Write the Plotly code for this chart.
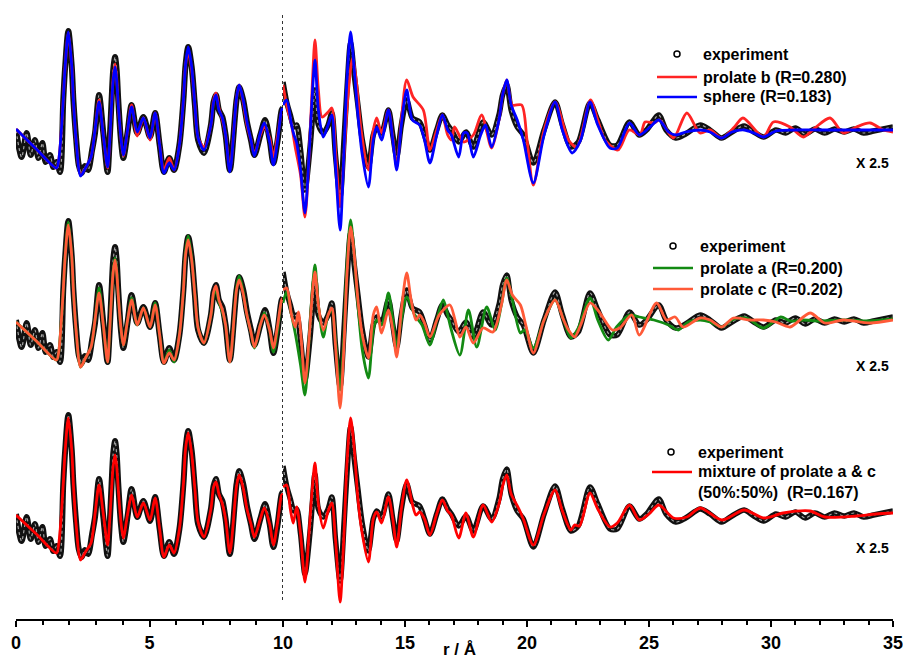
import plotly.graph_objects as go

# ---------------- data (values relative to each panel's baseline, arbitrary units) ----------------
# r < 10 Å drawn as measured; r >= 10 Å drawn magnified (X 2.5)
EXP_R_LO = [0.00, 0.21, 0.40, 0.55, 0.71, 0.84, 0.99, 1.11, 1.27, 1.40, 1.52, 1.65, 1.77, 1.84, 1.96,
            2.09, 2.15, 2.25, 2.35, 2.46, 2.58, 2.70, 2.85, 2.96, 3.11, 3.27, 3.43, 3.50, 3.58, 3.64,
            3.71, 3.77, 3.83, 3.93, 4.02, 4.18, 4.33, 4.54, 4.77, 5.02, 5.21, 5.38, 5.54, 5.74, 5.92,
            6.12, 6.27, 6.35, 6.45, 6.58, 6.70, 6.82, 7.04, 7.30, 7.40, 7.49, 7.60, 7.73, 7.85, 8.01,
            8.26, 8.36, 8.51, 8.65, 8.80, 8.93, 9.15, 9.33, 9.50, 9.64, 9.80, 9.95, 10.0]
EXP_G_LO = [0, -27, -3, -25, -10, -28, -13, -32, -25, -37, -32, -42, 30, 63, 99,
            63, 30, -8, -35, -43, -36, -40, -20, -3, 35, -3, -42, -15, 30, 60,
            73, 60, 30, -10, -28, -2, 25, -3, 13, -7, 17, -15, -42, -28, -40,
            -15, 30, 65, 83, 63, 25, -10, -23, 5, 28, 35, 20, 13, -5, -40,
            30, 43, 30, 8, -10, -25, -5, 10, -10, -33, -10, 20, 22]
EXP_R_HI = [10.00, 10.15, 10.30, 10.45, 10.56, 10.72, 10.90, 11.10, 11.20, 11.31, 11.45, 11.65, 11.85, 12.00, 12.15,
            12.34, 12.50, 12.62, 12.77, 12.92, 13.07, 13.25, 13.50, 13.70, 13.84, 14.04, 14.32, 14.50, 14.66, 14.85,
            15.07, 15.30, 15.60, 15.80, 16.02, 16.30, 16.53, 16.75, 16.90, 17.20, 17.50, 17.80, 18.20, 18.55, 18.85,
            19.00, 19.17, 19.35, 19.60, 19.85, 20.26, 20.70, 21.15, 21.45, 21.80, 22.10, 22.58, 22.90, 23.40, 23.70,
            24.20, 24.60, 24.90, 25.40, 25.70, 26.10, 26.50, 27.10, 27.50, 27.97, 28.40, 28.90, 29.30, 29.70, 30.20,
            30.60, 31.00, 31.40, 31.80, 32.20, 32.60, 33.00, 33.40, 33.80, 34.20, 34.60, 35.00]
EXP_G_HI = [48, 28, 15, 3, 5, -20, -60, -20, 10, 40, 5, -3, 5, 17, -25,
            -67, -10, 40, 87, 55, 25, -10, -37, -5, 3, -3, 20, -5, -27, 5,
            30, 12, 8, -5, -20, 0, 15, 5, 0, -12, -2, -17, 8, -5, 15,
            35, 45, 20, 3, -5, -33, 0, 28, 5, -17, -12, 27, 10, -15, -15,
            8, -5, 0, 15, 0, -8, -4, 5, 0, -8, -2, 4, -2, -7, 0,
            -3, 2, -4, 1, -3, 1, -2, 1, -3, -1, 1, 3]

MODEL_R_LO = [0, 0.76, 1.52, 1.60, 1.70, 1.77, 1.84, 1.96, 2.09, 2.15, 2.25, 2.42, 2.60, 2.81, 2.96,
              3.11, 3.27, 3.43, 3.50, 3.58, 3.64, 3.71, 3.77, 3.83, 3.93, 4.02, 4.18, 4.33, 4.54, 4.77,
              5.02, 5.21, 5.38, 5.54, 5.74, 5.92, 6.12, 6.27, 6.35, 6.45, 6.58, 6.70, 6.82, 7.04, 7.30,
              7.40, 7.49, 7.60, 7.73, 7.85, 8.01, 8.26, 8.36, 8.51, 8.65, 8.80, 8.93, 9.15, 9.30, 9.50,
              9.64, 9.80, 9.95, 10.0]

SPHERE_G_LO = [1, -19, -38, -30, 0, 30, 63, 98, 63, 30, -10, -46, -38, -27, 0,
               28, -5, -37, -15, 25, 50, 63, 50, 25, -8, -25, 0, 23, -2, 12,
               -8, 17, -15, -43, -33, -40, -15, 30, 65, 83, 63, 25, -8, -20, 5,
               28, 35, 20, 12, -5, -42, 32, 45, 30, 8, -10, -26, -3, 7, -12,
               -35, -10, 20, 22]
SPHERE_R_HI = [10.00, 10.15, 10.35, 10.45, 10.55, 10.72, 10.90, 11.08, 11.20, 11.31, 11.45, 11.65, 11.85, 12.00, 12.15,
               12.34, 12.50, 12.62, 12.77, 12.92, 13.07, 13.25, 13.50, 13.70, 13.84, 14.04, 14.32, 14.50, 14.66, 14.85,
               15.07, 15.30, 15.60, 15.80, 16.02, 16.30, 16.53, 16.75, 16.90, 17.20, 17.40, 17.55, 17.80, 18.10, 18.30,
               18.55, 18.85, 19.00, 19.17, 19.35, 19.60, 19.85, 20.26, 20.70, 21.15, 21.45, 21.85, 22.20, 22.58, 22.90,
               23.40, 23.70, 24.20, 24.60, 25.00, 25.40, 25.80, 26.10, 26.50, 27.10, 27.50, 27.97, 28.40, 28.90, 29.30,
               29.70, 30.20, 31.00, 32.00, 33.00, 34.00, 35.00]
SPHERE_G_HI = [25, 30, 5, -5, -12, -40, -83, -20, 35, 70, 20, -7, 5, 15, -35,
               -100, -20, 50, 98, 60, 15, -25, -57, -10, 3, -10, 20, -10, -40, 5,
               40, 10, 5, -10, -33, -5, 15, 0, -5, -27, -3, -3, -27, -5, 5,
               -17, 10, 35, 50, 25, 10, -10, -53, -5, 28, 0, -23, -10, 28, 5,
               -18, -18, 7, -5, 2, 10, -2, -5, -2, 0, -2, -8, -2, 0, -3,
               -7, -1, 0, 0, 0, 0, 0]

PROLATE_B_G_LO = [1, -19, -38, -30, 0, 30, 63, 97, 63, 30, -10, -45, -38, -27, 0,
                  30, -5, -38, -15, 25, 52, 66, 52, 25, -8, -26, 0, 25, -6, 12,
                  -10, 17, -15, -40, -28, -40, -15, 30, 65, 78, 60, 25, -8, -17, 5,
                  30, 37, 22, 10, -5, -40, 32, 45, 28, 5, -10, -24, -5, 3, -8,
                  -27, -5, 18, 20]
PROLATE_B_R_HI = [10.00, 10.15, 10.35, 10.50, 10.72, 10.90, 11.08, 11.20, 11.31, 11.45, 11.60, 11.85, 12.00, 12.15, 12.34,
                  12.50, 12.65, 12.85, 13.00, 13.20, 13.50, 13.70, 13.84, 14.04, 14.32, 14.50, 14.66, 14.85, 15.07, 15.33,
                  15.75, 16.02, 16.30, 16.53, 16.75, 16.90, 17.03, 17.40, 17.80, 18.14, 18.55, 18.85, 19.00, 19.17, 19.40,
                  19.78, 20.00, 20.26, 20.70, 21.15, 21.70, 22.04, 22.60, 22.90, 23.20, 23.73, 24.19, 24.63, 24.84, 25.20,
                  25.44, 26.00, 26.55, 27.09, 27.50, 27.98, 28.50, 28.85, 29.69, 30.10, 30.78, 31.33, 31.80, 32.42, 32.96,
                  33.50, 34.06, 34.60, 35.00]
PROLATE_B_G_HI = [45, 25, 5, -17, -45, -87, -20, 45, 90, 40, 13, 18, 22, -20, -77,
                  -25, 30, 72, 50, 0, -40, 0, 12, -3, 20, -8, -37, 10, 50, 33,
                  20, -20, 0, 15, -5, -10, 3, -12, -5, 15, -18, 10, 35, 50, 25,
                  25, -10, -55, 0, 28, -10, -17, 30, 10, -10, -20, 0, -5, 8, 7,
                  10, -8, 17, -3, 0, -8, 3, 12, -7, 8, 3, -7, 2, 12, -3,
                  3, 7, 0, -2]

PROLATE_A_G_LO = [-2, -21, -40, -32, 0, 30, 63, 98, 63, 30, -10, -47, -38, -27, 0,
                  32, -5, -42, -15, 25, 50, 62, 50, 25, -8, -25, 0, 22, -5, 12,
                  -7, 17, -15, -43, -30, -42, -15, 30, 68, 84, 62, 25, -8, -23, 5,
                  25, 30, 18, 8, -5, -42, 32, 44, 28, 5, -12, -28, -5, 7, -10,
                  -32, -10, 17, 17]
PROLATE_A_R_HI = [10.00, 10.15, 10.35, 10.50, 10.72, 10.90, 11.08, 11.20, 11.31, 11.45, 11.65, 11.85, 12.00, 12.15, 12.34,
                  12.50, 12.62, 12.77, 12.92, 13.07, 13.25, 13.50, 13.70, 13.84, 14.04, 14.32, 14.50, 14.66, 14.85, 15.07,
                  15.40, 15.70, 16.02, 16.30, 16.57, 16.75, 16.90, 17.25, 17.60, 17.94, 18.35, 18.69, 18.95, 19.17, 19.40,
                  19.73, 19.90, 20.26, 20.70, 21.15, 21.50, 21.80, 22.10, 22.58, 22.90, 23.33, 23.67, 24.20, 24.60, 25.20,
                  25.80, 26.20, 26.60, 27.10, 27.50, 27.98, 28.40, 29.00, 29.70, 30.40, 30.80, 31.30, 32.00, 33.00, 34.00,
                  35.00]
PROLATE_A_G_HI = [17, 28, 5, -13, -45, -75, -15, 30, 55, 15, -17, 5, 10, -20, -70,
                  -15, 55, 100, 65, 15, -30, -58, -10, 0, -5, 27, 0, -27, 0, 23,
                  5, -5, -25, 0, 20, 5, -10, -35, 10, -27, 13, -10, 15, 42, 20,
                  -13, -10, -28, 0, 20, 0, -18, -8, 22, 0, -20, -7, 5, 3, 0,
                  -5, -10, -2, 0, -2, -7, 0, 2, -8, 3, -1, 0, -1, 0, -1,
                  1]

PROLATE_C_G_LO = [-2, -21, -40, -32, 0, 30, 63, 95, 63, 30, -10, -47, -38, -27, 0,
                  27, -5, -42, -15, 25, 48, 60, 48, 25, -8, -25, 0, 20, -5, 12,
                  -7, 15, -15, -43, -33, -40, -15, 30, 65, 80, 60, 25, -8, -23, 5,
                  28, 34, 20, 10, -5, -42, 30, 40, 26, 5, -12, -27, -5, 5, -10,
                  -28, -5, 20, 22]
PROLATE_C_R_HI = [10.00, 10.15, 10.35, 10.50, 10.63, 10.75, 10.90, 11.08, 11.20, 11.31, 11.45, 11.65, 11.85, 12.00, 12.15,
                  12.34, 12.50, 12.62, 12.77, 12.92, 13.07, 13.25, 13.50, 13.70, 13.84, 14.04, 14.32, 14.50, 14.66, 14.85,
                  15.07, 15.25, 15.45, 15.60, 15.80, 16.02, 16.40, 16.84, 17.05, 17.25, 17.50, 17.80, 18.20, 18.60, 18.95,
                  19.17, 19.40, 19.73, 19.95, 20.26, 20.70, 21.15, 21.50, 21.70, 21.95, 22.20, 22.58, 22.90, 23.10, 23.50,
                  23.80, 24.30, 24.60, 25.31, 25.72, 26.07, 26.40, 27.09, 27.50, 27.98, 28.46, 29.14, 29.69, 30.20, 30.78,
                  31.60, 32.20, 32.96, 34.06, 35.00]
PROLATE_C_G_HI = [30, 32, 5, -7, 8, -20, -63, -15, 25, 48, 15, -10, 5, 12, -25,
                  -88, -25, 45, 93, 65, 20, -15, -38, 5, 13, -13, 10, -10, -37, 10,
                  47, 20, 0, 5, -3, -17, 5, 15, 0, -17, -7, -23, -8, -12, 15,
                  40, 25, 15, -5, -33, 0, 20, 0, -10, -17, -5, 17, 10, 3, -10,
                  -8, 5, -15, 17, 0, 3, -7, 2, 0, -7, 2, 0, 0, -2, -7,
                  7, -3, 0, -3, 0]

MIXTURE_G_LO = [-1, -20, -39, -30, 0, 30, 63, 96, 63, 30, -10, -46, -38, -29, 0,
                29, 0, -31, -10, 25, 48, 59, 48, 25, -8, -24, 0, 19, -3, 11,
                -6, 16, -15, -43, -31, -39, -15, 30, 65, 81, 60, 25, -8, -23, 5,
                27, 32, 20, 10, -5, -39, 28, 39, 26, 5, -10, -23, -5, 6, -10,
                -31, -8, 19, 20]
MIXTURE_R_HI = [10.00, 10.15, 10.30, 10.42, 10.56, 10.72, 10.90, 11.08, 11.20, 11.31, 11.45, 11.65, 11.85, 12.00, 12.15,
                12.34, 12.50, 12.62, 12.77, 12.92, 13.07, 13.25, 13.50, 13.70, 13.84, 14.04, 14.32, 14.50, 14.66, 14.85,
                15.07, 15.30, 15.45, 15.60, 15.80, 16.02, 16.30, 16.53, 16.75, 16.90, 17.20, 17.50, 17.80, 18.20, 18.55,
                18.85, 19.00, 19.17, 19.35, 19.65, 19.85, 20.26, 20.70, 21.15, 21.45, 21.80, 21.95, 22.15, 22.58, 22.90,
                23.40, 23.70, 24.20, 24.60, 25.00, 25.40, 26.00, 26.55, 27.10, 27.98, 28.90, 29.70, 30.50, 31.60, 32.20,
                33.50, 34.30, 35.00]
MIXTURE_G_HI = [27, 29, 5, -9, 7, -20, -68, -15, 25, 51, 10, -14, 3, 11, -25,
                -88, -20, 50, 96, 65, 15, -20, -48, -5, 2, -9, 17, -5, -33, 5,
                34, 10, -1, 2, -5, -21, 0, 14, 3, -1, -24, 1, -23, 9, -8,
                10, 28, 39, 20, 6, -5, -31, 0, 24, 3, -16, -11, -12, 21, 5,
                -13, -9, 9, -6, 0, 9, -4, -3, 6, -6, 4, -4, 1, 3, -3,
                -2, 0, 1]

MAJOR_TICKS_LO = [0, 5, 10]
MAJOR_TICKS_HI = [15, 20, 25, 30, 35]
MINOR_TICKS_LO = [1, 2, 3, 4, 6, 7, 8, 9]
MINOR_TICKS_HI = [11, 12, 13, 14, 16, 17, 18, 19, 21, 22, 23, 24, 26, 27, 28, 29, 31, 32, 33, 34]

LEGEND_TOP = ["experiment", "prolate b (R=0.280)", "sphere (R=0.183)"]
LEGEND_MID = ["experiment", "prolate a (R=0.200)", "prolate c (R=0.202)"]
LEGEND_BOT = ["experiment", "mixture of prolate a & c", "(50%:50%)  (R=0.167)"]
SCALE_LABEL = "X 2.5"

# ---------------- layout constants ----------------
W, H = 903, 660
ML, MR, MT, MB = 16, 10, 0, 41
PW, PH = W - ML - MR, H - MT - MB
SPLIT = (283 - ML) / PW          # x = 10 Å position within the plot width
BASE = {"top": 489, "mid": 299, "bot": 105}

C_RED_B = "#FF2424"
C_BLUE = "#0000FF"
C_GREEN = "#138A13"
C_ORANGE = "#FF5A38"
C_MIX = "#FF0000"
FONT = "Liberation Sans, Arial, sans-serif"


def px(x):
    return (x - ML) / PW


def py(y):
    return (H - MB - y) / PH


def shift(g, base):
    return [v + base for v in g]


fig = go.Figure()


def add_exp(base):
    for r, g, xa, w in ((EXP_R_LO, EXP_G_LO, "x", 6.0), (EXP_R_HI, EXP_G_HI, "x2", 5.5)):
        fig.add_trace(go.Scatter(x=r, y=shift(g, base), xaxis=xa, yaxis="y", mode="lines",
                                 line=dict(color="#111111", width=w, shape="spline", smoothing=0.8),
                                 hoverinfo="skip", showlegend=False))
        fig.add_trace(go.Scatter(x=r, y=shift(g, base), xaxis=xa, yaxis="y", mode="lines",
                                 line=dict(color="rgba(200,200,200,0.8)", width=1.2, shape="spline",
                                           smoothing=0.8, dash="dot"),
                                 hoverinfo="skip", showlegend=False))


def add_model(r_lo, g_lo, r_hi, g_hi, base, color, width=2.8):
    for r, g, xa in ((r_lo, g_lo, "x"), (r_hi, g_hi, "x2")):
        fig.add_trace(go.Scatter(x=r, y=shift(g, base), xaxis=xa, yaxis="y", mode="lines",
                                 line=dict(color=color, width=width, shape="spline", smoothing=0.8),
                                 hoverinfo="skip", showlegend=False))


# top panel
add_exp(BASE["top"])
add_model(MODEL_R_LO, PROLATE_B_G_LO, PROLATE_B_R_HI, PROLATE_B_G_HI, BASE["top"], C_RED_B)
add_model(MODEL_R_LO, SPHERE_G_LO, SPHERE_R_HI, SPHERE_G_HI, BASE["top"], C_BLUE)
# middle panel
add_exp(BASE["mid"])
add_model(MODEL_R_LO, PROLATE_A_G_LO, PROLATE_A_R_HI, PROLATE_A_G_HI, BASE["mid"], C_GREEN)
add_model(MODEL_R_LO, PROLATE_C_G_LO, PROLATE_C_R_HI, PROLATE_C_G_HI, BASE["mid"], C_ORANGE)
# bottom panel
add_exp(BASE["bot"])
add_model(MODEL_R_LO, MIXTURE_G_LO, MIXTURE_R_HI, MIXTURE_G_HI, BASE["bot"], C_MIX)

axis_common = dict(showline=True, linewidth=2, linecolor="black", ticks="outside", ticklen=6,
                   tickwidth=2, tickcolor="black", showgrid=False, zeroline=False, anchor="y",
                   tickfont=dict(family=FONT, size=18, color="black", weight="bold"),
                   tickmode="array", ticklabeloverflow="allow")
fig.update_layout(
    width=W, height=H, margin=dict(l=ML, r=MR, t=MT, b=MB),
    paper_bgcolor="white", plot_bgcolor="white", showlegend=False,
    xaxis=dict(domain=[0, SPLIT], range=[0, 10], tickvals=MAJOR_TICKS_LO,
               minor=dict(tickvals=MINOR_TICKS_LO, ticks="outside", ticklen=3.5, tickwidth=1.5,
                          tickcolor="black"), **axis_common),
    xaxis2=dict(domain=[SPLIT, 1], range=[10, 35], tickvals=MAJOR_TICKS_HI,
                minor=dict(tickvals=MINOR_TICKS_HI, ticks="outside", ticklen=3.5, tickwidth=1.5,
                           tickcolor="black"), **axis_common),
    yaxis=dict(range=[0, PH], visible=False, fixedrange=True),
)

# dotted separator at r = 10 Å
fig.add_shape(type="line", xref="x", yref="paper", x0=10, x1=10, y0=py(600), y1=py(12),
              line=dict(color="black", width=1.6, dash="dot"))

annotations = []
# axis title
annotations.append(dict(text="r / Å", xref="paper", yref="paper", x=px(459), y=py(649),
                        xanchor="center", yanchor="middle", showarrow=False,
                        font=dict(family=FONT, size=17, color="black", weight="bold")))
# X 2.5 labels
for yy in (163, 366, 548):
    annotations.append(dict(text=SCALE_LABEL, xref="paper", yref="paper", x=px(872), y=py(yy),
                            xanchor="center", yanchor="middle", showarrow=False,
                            font=dict(family=FONT, size=14, color="black", weight="bold")))

legend_specs = [
    (LEGEND_TOP, 677, 701, (657, 697), [54, 77, 97], [None, C_RED_B, C_BLUE]),
    (LEGEND_MID, 673, 698, (653, 693), [246, 268, 289], [None, C_GREEN, C_ORANGE]),
    (LEGEND_BOT, 671, 696, (652, 692), [452, 472, 493], [None, C_MIX, None]),
]
for texts, cx, tx, (lx0, lx1), ys, cols in legend_specs:
    for text, yy, col in zip(texts, ys, cols):
        annotations.append(dict(text=text, xref="paper", yref="paper", x=px(tx), y=py(yy),
                                xanchor="left", yanchor="middle", showarrow=False,
                                font=dict(family=FONT, size=16, color="black", weight="bold")))
        if col is not None:
            fig.add_shape(type="line", xref="paper", yref="paper", x0=px(lx0), x1=px(lx1),
                          y0=py(yy), y1=py(yy), line=dict(color=col, width=2.5))
    fig.add_shape(type="circle", xref="paper", yref="paper", x0=px(cx - 3), x1=px(cx + 3),
                  y0=py(ys[0] + 3), y1=py(ys[0] - 3), line=dict(color="black", width=1.5))

fig.update_layout(annotations=annotations)
fig.write_html("out.html")
